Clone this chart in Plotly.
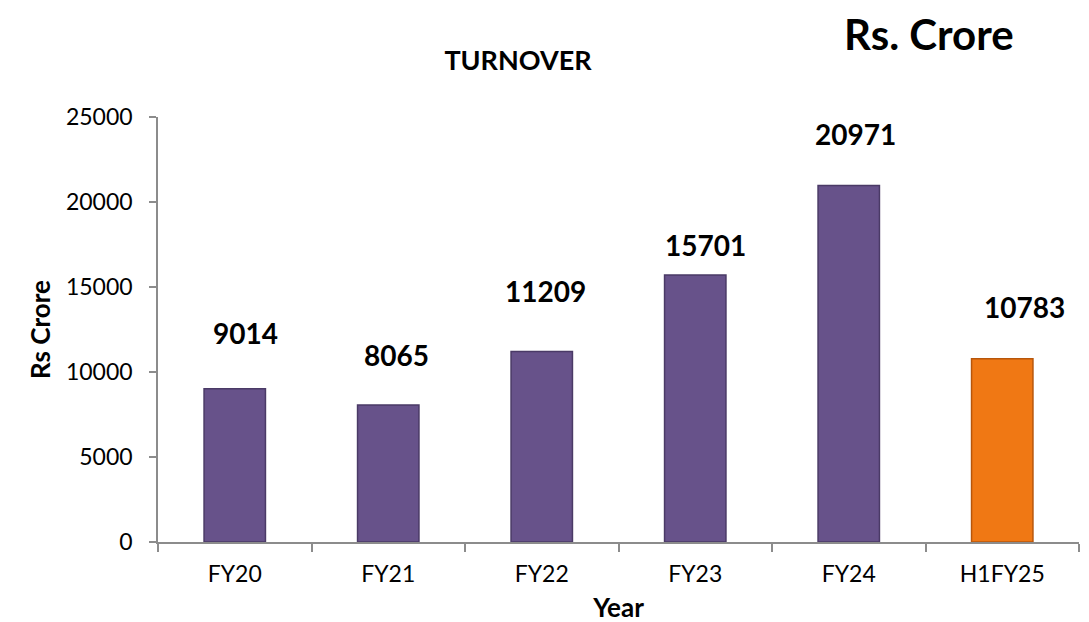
import plotly.graph_objects as go

# ---- data ----
years = ["FY20", "FY21", "FY22", "FY23", "FY24", "H1FY25"]
turnover = [9014, 8065, 11209, 15701, 20971, 10783]
y_ticks = [0, 5000, 10000, 15000, 20000, 25000]

# ---- style ----
bar_colors = ["#67528A", "#67528A", "#67528A", "#67528A", "#67528A", "#F07814"]
bar_edges = ["#4A3A66", "#4A3A66", "#4A3A66", "#4A3A66", "#4A3A66", "#B8560A"]
label_yshift = [56, 50, 60, 30, 51, 52]
label_xshift = [11, 8, 4, 10, 7, 22]
FONT = "Lato"
AXIS_GREY = "#8C8C8C"

fig = go.Figure()
fig.add_trace(go.Bar(
    x=years, y=turnover,
    marker=dict(color=bar_colors, line=dict(color=bar_edges, width=1.5)),
    showlegend=False, hoverinfo="x+y",
))

for cat, val, dx, dy in zip(years, turnover, label_xshift, label_yshift):
    fig.add_annotation(
        x=cat, y=val, text=f"<b>{val}</b>", showarrow=False,
        xanchor="center", yanchor="middle", xshift=dx, yshift=dy,
        font=dict(family=FONT, size=28, color="#000000"),
    )

fig.add_annotation(
    xref="paper", yref="paper", x=0.837, y=1.2593,
    text="<b>Rs. Crore</b>", showarrow=False,
    xanchor="center", yanchor="top",
    font=dict(family=FONT, size=42, color="#000000"),
)

fig.update_layout(
    width=1089, height=622,
    margin=dict(l=150, r=18, t=109, b=81),
    paper_bgcolor="white", plot_bgcolor="white",
    bargap=0.6,
    font=dict(family=FONT, size=23, color="#000000"),
    title=dict(
        text="<b>TURNOVER</b>", x=510 / 1089, y=1 - 53 / 622,
        xanchor="center", yanchor="middle", xref="container", yref="container",
        font=dict(family=FONT, size=27, color="#000000"),
    ),
)

fig.update_xaxes(
    type="category",
    showline=True, linecolor=AXIS_GREY, linewidth=1.5,
    ticks="outside", tickson="boundaries", ticklen=8, tickcolor=AXIS_GREY, tickwidth=1.5,
    showgrid=False, zeroline=False,
    tickfont=dict(family=FONT, size=23, color="#000000"),
    ticklabelstandoff=11,
    title=dict(text="<b>Year</b>", font=dict(family=FONT, size=26, color="#000000"), standoff=12),
)
fig.update_yaxes(
    range=[0, 25000], tickvals=y_ticks, ticktext=[str(v) for v in y_ticks],
    showline=True, linecolor=AXIS_GREY, linewidth=1.5,
    ticks="outside", ticklen=7, tickcolor=AXIS_GREY, tickwidth=1.5,
    showgrid=False, zeroline=False,
    tickfont=dict(family=FONT, size=23, color="#000000"),
    ticklabelstandoff=12,
    title=dict(text="<b>Rs Crore</b>", font=dict(family=FONT, size=26, color="#000000"), standoff=8),
)

fig.write_html("out.html")
